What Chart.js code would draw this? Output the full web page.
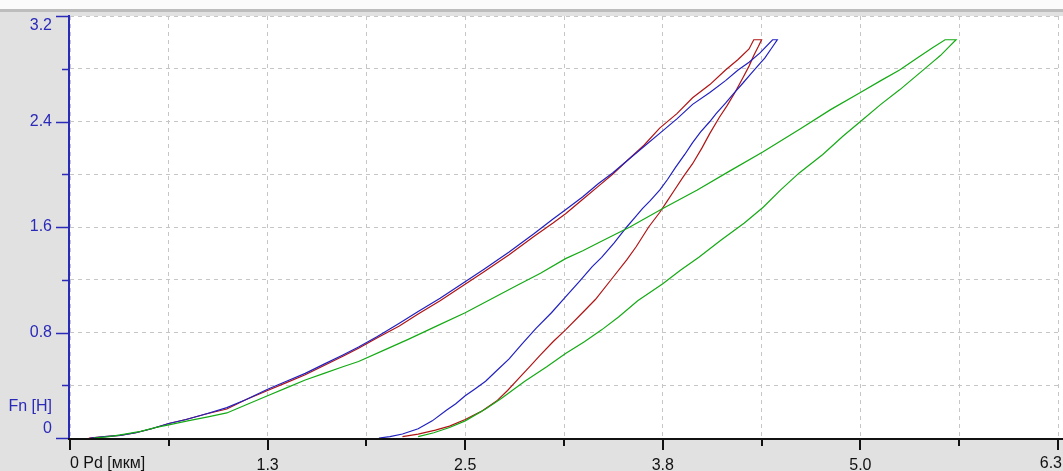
<!DOCTYPE html>
<html>
<head>
<meta charset="utf-8">
<script src="https://cdn.jsdelivr.net/npm/chart.js@4/dist/chart.umd.min.js"></script>
<style>
html,body{margin:0;padding:0;background:#e1e1e1;}
#wrap{width:1063px;height:471px;position:relative;}
</style>
</head>
<body>
<div id="wrap"><canvas id="c" width="1063" height="471"></canvas></div>
<script>
// ---- data ----
const xTickValues = [0, 0.63, 1.26, 1.89, 2.52, 3.15, 3.78, 4.41, 5.04, 5.67, 6.3];
const xTickLabels = ['0 Pd [мкм]', '', '1.3', '', '2.5', '', '3.8', '', '5.0', '', '6.3'];
const yTickValues = [0, 0.4, 0.8, 1.2, 1.6, 2.0, 2.4, 2.8, 3.2];
const yTickLabels = ['0', '', '0.8', '', '1.6', '', '2.4', '', '3.2'];
const yAxisTitle = 'Fn [H]';

const blueX = [0.13,0.22,0.32,0.42,0.52,0.63,0.74,0.86,1.00,1.12,1.26,1.38,1.50,1.62,1.74,1.84,1.96,2.10,2.22,2.36,2.50,2.64,2.80,2.96,3.08,3.16,3.27,3.37,3.46,3.55,3.66,3.76,3.87,3.97,4.08,4.18,4.26,4.33,4.40,4.48,4.51,
  4.47,4.43,4.40,4.34,4.29,4.23,4.18,4.12,4.08,4.02,3.97,3.92,3.86,3.81,3.76,3.70,3.65,3.60,3.55,3.47,3.39,3.33,3.25,3.16,3.07,2.97,2.88,2.80,2.72,2.65,2.58,2.52,2.46,2.40,2.31,2.22,2.12,2.04,1.97];
const blueY = [0.00,0.01,0.02,0.04,0.07,0.11,0.14,0.18,0.23,0.29,0.37,0.43,0.49,0.56,0.63,0.69,0.77,0.87,0.96,1.06,1.17,1.28,1.41,1.55,1.66,1.73,1.83,1.93,2.01,2.10,2.21,2.31,2.42,2.53,2.62,2.71,2.79,2.85,2.92,3.02,3.02,
  2.95,2.88,2.84,2.76,2.69,2.61,2.54,2.46,2.40,2.32,2.24,2.15,2.05,1.96,1.88,1.80,1.74,1.67,1.60,1.48,1.37,1.30,1.19,1.07,0.95,0.83,0.71,0.60,0.51,0.43,0.37,0.32,0.26,0.21,0.13,0.07,0.03,0.01,0.00];

const redX = [0.12,0.22,0.32,0.42,0.52,0.63,0.74,0.86,1.00,1.12,1.26,1.38,1.50,1.62,1.74,1.84,1.96,2.10,2.22,2.36,2.50,2.64,2.80,2.96,3.08,3.16,3.27,3.37,3.46,3.55,3.66,3.76,3.87,3.97,4.08,4.18,4.26,4.33,4.36,4.41,
  4.39,4.36,4.33,4.29,4.24,4.19,4.14,4.08,4.03,3.97,3.91,3.86,3.81,3.76,3.69,3.61,3.55,3.45,3.35,3.26,3.16,3.08,3.00,2.93,2.86,2.79,2.72,2.62,2.52,2.42,2.33,2.22,2.12];
const redY = [0.00,0.01,0.02,0.04,0.07,0.11,0.14,0.18,0.22,0.29,0.36,0.42,0.48,0.55,0.62,0.68,0.76,0.85,0.94,1.04,1.15,1.26,1.39,1.53,1.63,1.70,1.81,1.91,2.00,2.10,2.22,2.35,2.46,2.58,2.68,2.79,2.87,2.95,3.02,3.02,
  2.97,2.90,2.82,2.73,2.62,2.52,2.43,2.31,2.20,2.08,1.98,1.89,1.80,1.71,1.60,1.45,1.35,1.20,1.05,0.94,0.82,0.73,0.63,0.54,0.45,0.36,0.28,0.20,0.14,0.09,0.06,0.03,0.01];

const greenX = [0.15,0.25,0.35,0.45,0.55,0.63,0.75,0.88,1.00,1.12,1.26,1.38,1.50,1.62,1.74,1.84,2.01,2.16,2.34,2.52,2.68,2.84,3.00,3.16,3.27,3.37,3.57,3.78,4.00,4.20,4.42,4.65,4.85,5.04,5.17,5.29,5.40,5.50,5.58,5.65,
  5.60,5.55,5.50,5.40,5.29,5.17,5.05,4.93,4.80,4.65,4.53,4.42,4.30,4.15,4.01,3.89,3.78,3.62,3.50,3.39,3.28,3.16,3.04,2.90,2.75,2.65,2.52,2.42,2.32,2.22];
const greenY = [0.00,0.01,0.03,0.05,0.08,0.10,0.13,0.16,0.19,0.25,0.32,0.38,0.44,0.49,0.54,0.58,0.67,0.75,0.85,0.95,1.05,1.15,1.25,1.36,1.42,1.48,1.60,1.74,1.88,2.02,2.17,2.34,2.49,2.62,2.71,2.79,2.88,2.96,3.02,3.02,
  2.96,2.90,2.85,2.75,2.64,2.53,2.41,2.29,2.15,2.01,1.88,1.75,1.63,1.50,1.37,1.27,1.17,1.04,0.92,0.82,0.73,0.64,0.54,0.43,0.30,0.22,0.13,0.08,0.04,0.01];

const seriesColors = { blue: '#2020c0', red: '#b01414', green: '#14aa14' };
// ---- end data ----

function pts(xs, ys) { return xs.map((x, i) => ({ x: x, y: ys[i] })); }

const FONT = '"Liberation Sans", Arial, sans-serif';
const FONT_SIZE = 16;
const AXIS_BLUE = '#2a2ab8';
const LAST = xTickLabels.length - 1;

const framePlugin = {
  id: 'frame',
  beforeDraw(chart) {
    const ctx = chart.ctx, a = chart.chartArea;
    ctx.save();
    ctx.fillStyle = '#e1e1e1';
    ctx.fillRect(0, 0, chart.width, chart.height);
    ctx.fillStyle = '#fbfbfb';
    ctx.fillRect(0, 0, chart.width, 9);
    ctx.fillStyle = '#bdbdbd';
    ctx.fillRect(0, 9, chart.width, 3);
    ctx.fillStyle = '#ffffff';
    ctx.fillRect(a.left, a.top, chart.width - a.left, a.bottom - a.top);
    ctx.restore();
  },
  afterDraw(chart) {
    const ctx = chart.ctx, a = chart.chartArea;
    const xs = chart.scales.x, ys = chart.scales.y;
    ctx.save();
    // y axis
    ctx.strokeStyle = AXIS_BLUE;
    ctx.lineWidth = 2;
    ctx.beginPath();
    ctx.moveTo(a.left - 1, a.top - 1);
    ctx.lineTo(a.left - 1, a.bottom);
    ctx.stroke();
    ctx.lineWidth = 1.5;
    yTickValues.forEach((v, i) => {
      const py = Math.round(ys.getPixelForValue(v)) + 0.5;
      const len = yTickLabels[i] ? 13 : 7;
      ctx.beginPath();
      ctx.moveTo(a.left - 1 - len, py);
      ctx.lineTo(a.left - 1, py);
      ctx.stroke();
    });
    // x axis
    ctx.strokeStyle = '#111111';
    ctx.lineWidth = 2;
    ctx.beginPath();
    ctx.moveTo(a.left - 2, a.bottom + 1);
    ctx.lineTo(chart.width, a.bottom + 1);
    ctx.stroke();
    xTickValues.forEach((v, i) => {
      const px = Math.round(xs.getPixelForValue(v));
      const len = xTickLabels[i] ? 11 : 7;
      ctx.beginPath();
      ctx.moveTo(px, a.bottom + 1);
      ctx.lineTo(px, a.bottom + 1 + len);
      ctx.stroke();
    });
    // axis titles and edge labels
    ctx.font = FONT_SIZE + 'px ' + FONT;
    ctx.fillStyle = AXIS_BLUE;
    ctx.textAlign = 'right';
    ctx.textBaseline = 'middle';
    ctx.fillText(yAxisTitle, a.left - 18, ys.getPixelForValue(0.235));
    ctx.fillStyle = '#111111';
    ctx.textAlign = 'left';
    ctx.textBaseline = 'top';
    ctx.fillText(xTickLabels[0], xs.getPixelForValue(0), a.bottom + 18);
    ctx.textAlign = 'right';
    ctx.fillText(xTickLabels[LAST], chart.width - 1, a.bottom + 18);
    ctx.restore();
  }
};

new Chart(document.getElementById('c'), {
  type: 'scatter',
  data: {
    datasets: [
      { data: pts(greenX, greenY), borderColor: seriesColors.green },
      { data: pts(blueX, blueY), borderColor: seriesColors.blue },
      { data: pts(redX, redY), borderColor: seriesColors.red }
    ]
  },
  options: {
    responsive: false,
    animation: false,
    devicePixelRatio: 1,
    showLine: true,
    layout: { padding: { top: 16, right: 5, left: 0, bottom: 0 } },
    elements: {
      point: { radius: 0, hoverRadius: 0 },
      line: { borderWidth: 1.2, tension: 0, fill: false }
    },
    plugins: { legend: { display: false }, tooltip: { enabled: false } },
    scales: {
      x: {
        type: 'linear', min: 0, max: 6.3,
        afterBuildTicks(s) { s.ticks = xTickValues.map(v => ({ value: v })); },
        afterFit(s) { s.height = 33; s.paddingLeft = 0; s.paddingRight = 0; },
        grid: { color: '#c6c6c6', lineWidth: 1, drawTicks: false },
        border: { display: false, dash: [4, 4] },
        ticks: {
          autoSkip: false, maxRotation: 0, padding: 18,
          font: { size: FONT_SIZE, family: FONT }, color: '#111111',
          callback: (v, i) => (i === 0 || i === LAST ? '' : xTickLabels[i])
        }
      },
      y: {
        type: 'linear', min: 0, max: 3.2,
        afterBuildTicks(s) { s.ticks = yTickValues.map(v => ({ value: v })); },
        afterFit(s) { s.width = 70; s.paddingTop = 0; s.paddingBottom = 0; },
        grid: { color: '#c6c6c6', lineWidth: 1, drawTicks: false },
        border: { display: false, dash: [4, 4] },
        ticks: {
          autoSkip: false, padding: 18,
          font: { size: FONT_SIZE, family: FONT }, color: AXIS_BLUE,
          callback: (v, i) => {
            const l = yTickLabels[i];
            if (!l) return '';
            if (i === 0) return [l, ''];
            if (i === yTickLabels.length - 1) return ['', l];
            return l;
          }
        }
      }
    }
  },
  plugins: [framePlugin]
});
</script>
</body>
</html>
